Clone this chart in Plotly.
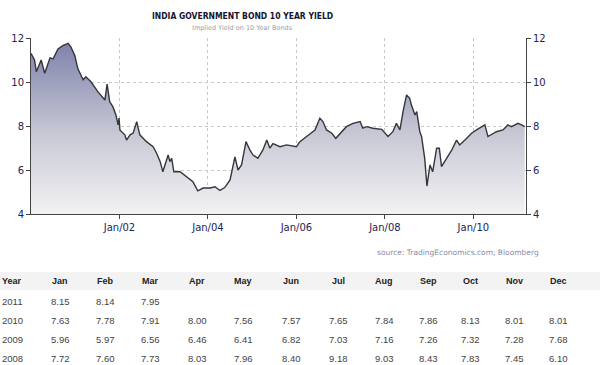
import plotly.graph_objects as go

# ---- data (decimal years, yield %) ----
years = [2000.00, 2000.08, 2000.12, 2000.23, 2000.31, 2000.43, 2000.50, 2000.61, 2000.72, 2000.84,
         2000.90, 2000.99, 2001.06, 2001.18, 2001.24, 2001.36, 2001.51, 2001.67, 2001.72, 2001.78,
         2001.85, 2001.92, 2001.97, 2001.99, 2002.01, 2002.12, 2002.16, 2002.24, 2002.31, 2002.39,
         2002.46, 2002.61, 2002.76, 2002.84, 2002.92, 2002.98, 2003.10, 2003.14, 2003.18, 2003.23,
         2003.37, 2003.52, 2003.66, 2003.77, 2003.89, 2004.05, 2004.16, 2004.27, 2004.38, 2004.50,
         2004.61, 2004.68, 2004.76, 2004.86, 2004.95, 2005.02, 2005.13, 2005.24, 2005.33, 2005.40,
         2005.47, 2005.63, 2005.78, 2006.00, 2006.08, 2006.23, 2006.42, 2006.53, 2006.60, 2006.68,
         2006.80, 2006.89, 2007.02, 2007.13, 2007.28, 2007.44, 2007.50, 2007.59, 2007.73, 2007.93,
         2008.07, 2008.18, 2008.26, 2008.34, 2008.41, 2008.49, 2008.56, 2008.60, 2008.68, 2008.72,
         2008.79, 2008.83, 2008.90, 2008.95, 2009.02, 2009.08, 2009.17, 2009.23, 2009.28, 2009.39,
         2009.51, 2009.62, 2009.69, 2009.81, 2009.88, 2009.96, 2010.07, 2010.18, 2010.26, 2010.33,
         2010.41, 2010.52, 2010.67, 2010.78, 2010.86, 2011.01, 2011.09, 2011.16]
yields = [11.30, 11.00, 10.47, 11.00, 10.40, 11.10, 11.05, 11.50, 11.65, 11.76,
          11.60, 11.20, 10.60, 10.10, 10.24, 10.00, 9.56, 9.18, 9.90, 9.10,
          8.88, 8.50, 8.05, 8.36, 7.82, 7.60, 7.36, 7.60, 7.68, 8.20,
          7.60, 7.29, 7.06, 6.76, 6.38, 5.92, 6.68, 6.38, 6.53, 5.92,
          5.92, 5.70, 5.47, 5.05, 5.18, 5.18, 5.24, 5.07, 5.20, 5.55,
          6.60, 6.00, 6.23, 7.29, 6.90, 6.68, 6.53, 6.90, 7.36, 6.99,
          7.20, 7.06, 7.14, 7.06, 7.29, 7.52, 7.82, 8.35, 8.20, 7.82,
          7.67, 7.44, 7.74, 7.97, 8.12, 8.20, 7.90, 7.97, 7.90, 7.85,
          7.52, 7.74, 8.12, 7.82, 8.65, 9.41, 9.26, 8.95, 8.50, 8.65,
          7.74, 7.52, 6.53, 5.27, 6.23, 5.92, 6.99, 6.99, 6.15, 6.53,
          6.90, 7.36, 7.14, 7.36, 7.52, 7.67, 7.82, 7.97, 8.05, 7.52,
          7.60, 7.74, 7.82, 8.05, 7.97, 8.12, 8.05, 7.97]

x_tick_vals = [2002, 2004, 2006, 2008, 2010]
x_tick_text = ["Jan/02", "Jan/04", "Jan/06", "Jan/08", "Jan/10"]
y_tick_vals = [4, 6, 8, 10, 12]

table_header = ["Year", "Jan", "Feb", "Mar", "Apr", "May", "Jun",
                "Jul", "Aug", "Sep", "Oct", "Nov", "Dec"]
table_years = ["2011", "2010", "2009", "2008"]
row_2011 = ["8.15", "8.14", "7.95", "", "", "", "", "", "", "", "", ""]
row_2010 = ["7.63", "7.78", "7.91", "8.00", "7.56", "7.57", "7.65", "7.84", "7.86", "8.13", "8.01", "8.01"]
row_2009 = ["5.96", "5.97", "6.56", "6.46", "6.41", "6.82", "7.03", "7.16", "7.26", "7.32", "7.28", "7.68"]
row_2008 = ["7.72", "7.60", "7.73", "8.03", "7.96", "8.40", "9.18", "9.03", "8.43", "7.83", "7.45", "6.10"]
table_rows = [row_2011, row_2010, row_2009, row_2008]

title_text = "INDIA GOVERNMENT BOND 10 YEAR YIELD"
subtitle_text = "Implied Yield on 10 Year Bonds"
source_text = "source: TradingEconomics.com; Bloomberg"

# ---- layout helpers (pixel -> paper) ----
W, H = 600, 365
L, R, T, B = 31, 526, 38, 214


def px(x):
    return (x - L) / (R - L)


def py(y):
    return (B - y) / (B - T)


tick_font = dict(family="DejaVu Sans, Verdana, sans-serif", size=10, color="#1c2458")

fig = go.Figure()
fig.add_trace(go.Scatter(
    x=years, y=yields, mode="lines",
    line=dict(color="#35353d", width=1.4),
    fill="tozeroy",
    fillgradient=dict(type="vertical", start=4, stop=12,
                      colorscale=[[0, "#f2f2f4"], [0.45, "#c8c9d5"], [1, "#7b7fa9"]]),
    hoverinfo="skip", showlegend=False,
))
# invisible trace to activate right axis
fig.add_trace(go.Scatter(x=[years[0]], y=[yields[0]], yaxis="y2", mode="markers",
                         marker=dict(opacity=0), hoverinfo="skip", showlegend=False))

annotations = [
    dict(text="<b>" + title_text + "</b>", x=px(242), y=py(16),
         font=dict(family="DejaVu Sans Condensed, DejaVu Sans", size=8.5, color="#141430")),
    dict(text=subtitle_text, x=px(242), y=py(28),
         font=dict(family="DejaVu Sans, sans-serif", size=6.5, color="#9a9aa8")),
    dict(text=source_text, x=px(458), y=py(252),
         font=dict(family="DejaVu Sans, sans-serif", size=7.5, color="#8a8aa6")),
]

col_centers = [None, 60, 105, 150, 197, 243, 291, 338, 384, 428, 470, 514, 558]
header_y = 281
row_ys = [301, 320, 339, 358]
table_font = dict(family="Liberation Sans, Arial, sans-serif", size=9, color="#222222")
val_font = dict(family="Liberation Sans, Arial, sans-serif", size=9.5, color="#444444")

annotations.append(dict(text="<b>" + table_header[0] + "</b>", x=px(0), y=py(header_y),
                        xanchor="left", font=table_font))
for i in range(1, len(table_header)):
    annotations.append(dict(text="<b>" + table_header[i] + "</b>", x=px(col_centers[i]),
                            y=py(header_y), font=table_font))
for r, yr in enumerate(table_years):
    annotations.append(dict(text=yr, x=px(0), y=py(row_ys[r]), xanchor="left", font=val_font))
    for c, v in enumerate(table_rows[r]):
        if v:
            annotations.append(dict(text=v, x=px(col_centers[c + 1]), y=py(row_ys[r]), font=val_font))

for a in annotations:
    a.update(xref="paper", yref="paper", showarrow=False)
    a.setdefault("xanchor", "center")
    a.setdefault("yanchor", "middle")

shapes = [
    dict(type="rect", xref="paper", yref="paper", x0=px(0), x1=px(600),
         y0=py(272), y1=py(290), fillcolor="#f3f3f3", line=dict(width=0), layer="below"),
]

fig.update_layout(
    width=W, height=H,
    margin=dict(l=L, r=W - R, t=T, b=H - B, pad=0),
    paper_bgcolor="white", plot_bgcolor="white",
    showlegend=False,
    annotations=annotations,
    shapes=shapes,
    xaxis=dict(range=[2000.0, 2011.19], tickvals=x_tick_vals, ticktext=x_tick_text,
               showgrid=True, gridcolor="#c8c8c8", griddash="dot", gridwidth=1,
               showline=True, linecolor="#444444", linewidth=1,
               ticks="outside", ticklen=4, tickcolor="#444444",
               tickfont=tick_font, zeroline=False, fixedrange=True),
    yaxis=dict(range=[4, 12], tickvals=y_tick_vals,
               showgrid=True, gridcolor="#c8c8c8", griddash="dot", gridwidth=1,
               showline=True, linecolor="#444444", linewidth=1,
               ticks="outside", ticklen=4, tickcolor="#444444",
               tickfont=tick_font, zeroline=False, fixedrange=True),
    yaxis2=dict(range=[4, 12], tickvals=y_tick_vals, overlaying="y", side="right",
                showgrid=False, showline=True, linecolor="#444444", linewidth=1,
                ticks="outside", ticklen=4, tickcolor="#444444",
                tickfont=tick_font, zeroline=False, fixedrange=True),
)

fig.write_html("out.html", config={"displayModeBar": False},
               post_script="document.body.style.margin='0';document.body.style.padding='0';")
